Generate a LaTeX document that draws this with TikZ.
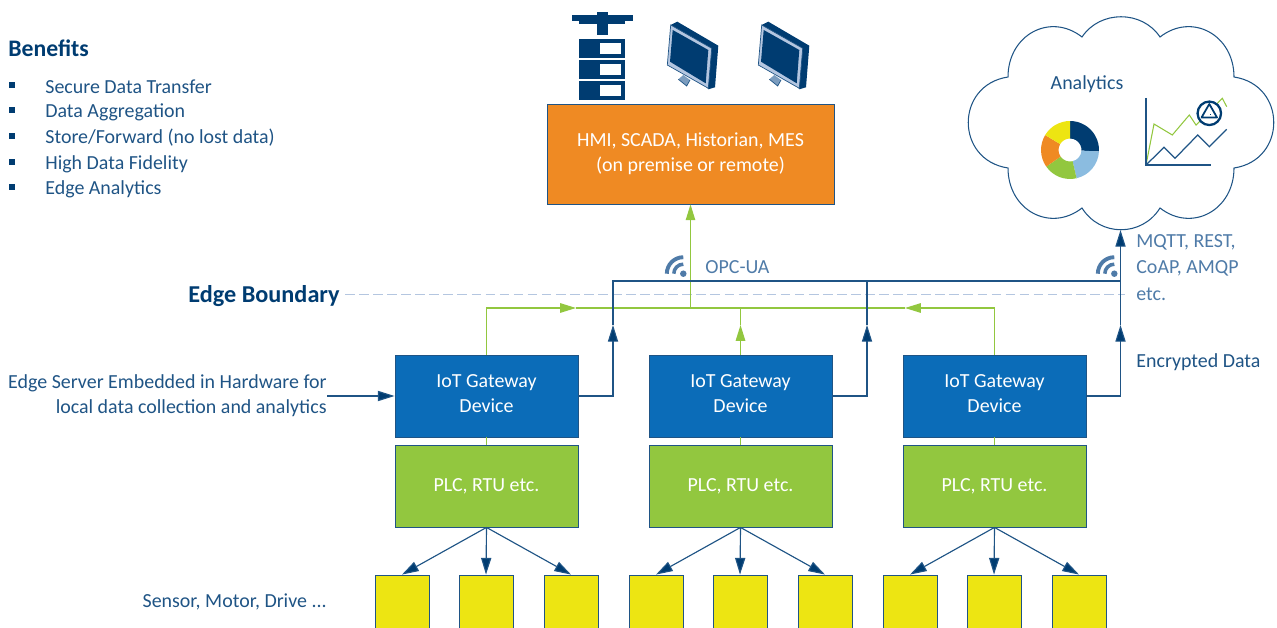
\documentclass[tikz,border=0pt]{standalone}
\usepackage{fontspec}
\setmainfont{Carlito}
\usetikzlibrary{arrows.meta}
\definecolor{darkBlue}{HTML}{003C71}
\definecolor{lineBlue}{HTML}{1F5485}
\definecolor{softBlue}{HTML}{4F7BA8}
\definecolor{dashBlue}{HTML}{B4C6E0}
\definecolor{gatewayBlue}{HTML}{0B6CB8}
\definecolor{plcGreen}{HTML}{92C73F}
\definecolor{hmiOrange}{HTML}{EF8A23}
\definecolor{sensorYellow}{HTML}{EDE512}
\definecolor{skyBlue}{HTML}{8BBCE0}
\newcommand{\liftText}{\rule[-3pt]{0pt}{0pt}}
\tikzset{
	block/.style    = {draw=lineBlue, line width=0.5pt, rectangle, text=white, align=center,
		font=\fontsize{11.35}{14.2}\selectfont},
	gateway/.style  = {block, fill=gatewayBlue, minimum width=3.66cm, minimum height=1.64cm},
	plc/.style      = {block, fill=plcGreen, minimum width=3.66cm, minimum height=1.64cm},
	sensor/.style   = {block, fill=sensorYellow, minimum width=1.08cm, minimum height=1.2cm},
	label/.style    = {text=lineBlue, inner sep=0pt, font=\fontsize{11.35}{14.2}\selectfont},
	softlabel/.style = {label, text=softBlue},
	greenline/.style = {draw=plcGreen, line width=0.7pt},
	blueline/.style = {draw=lineBlue, line width=0.65pt, >={Triangle[length=9.5pt,width=5.8pt,fill=darkBlue]}},
}

\begin{document}
\begin{tikzpicture}[ x=0.02cm, y=-0.02cm,
                       >/.tip={Triangle[length=9pt,width=5.4pt]}
                       ]
    \useasboundingbox (0,0) rectangle (1277,628);

    %-- Text on the left --%
    \draw
      node(benefits) at (8,48.5) [label, anchor=west, font=\fontsize{13.5}{15}\selectfont\bfseries, text=darkBlue] {Benefits}
      node(item1) at (45,87) [label, anchor=west] {Secure Data Transfer}
      node(item2) at (45,112) [label, anchor=west] {Data Aggregation}
      node(item3) at (45,138) [label, anchor=west] {Store/Forward (no lost data)}
      node(item4) at (45,164) [label, anchor=west] {High Data Fidelity}
      node(item5) at (45,189) [label, anchor=west] {Edge Analytics}

      node(edgeBoundary) at (340,296) [label, anchor=east, font=\fontsize{13.8}{15}\selectfont\bfseries, text=darkBlue] {Edge Boundary}
      node(edgeServer) at (327,396) [label, anchor=east, align=right] {Edge Server Embedded in Hardware for\\local data collection and analytics}
      node(sensorText) at (327,602) [label, anchor=east] {Sensor, Motor, Drive ...}
    ;
    \foreach \itemY in {85,110,136,162,187}
      \fill[darkBlue] (9,\itemY-3) rectangle (15,\itemY+3);

    %-- Blocks creation --%
    \draw
      % TOP %
      node(hmi) at (690.5,154) [block, fill=hmiOrange, minimum width=5.74cm, minimum height=2cm] {HMI, SCADA, Historian, MES\\(on premise or remote)}

      % GATEWAYS %
      node(gateway1) at (486.5,396) [gateway] {IoT Gateway\\Device\liftText}
      node(gateway2) at (740.5,396) [gateway] {IoT Gateway\\Device\liftText}
      node(gateway3) at (994.5,396) [gateway] {IoT Gateway\\Device\liftText}

      % CONTROLLERS %
      node(plc1) at (486.5,486) [plc] {\raisebox{-1pt}{PLC, RTU etc.}}
      node(plc2) at (740.5,486) [plc] {\raisebox{-1pt}{PLC, RTU etc.}}
      node(plc3) at (994.5,486) [plc] {\raisebox{-1pt}{PLC, RTU etc.}}

      % SENSORS %
      node(sensor1) at (402,605) [sensor] {}
      node(sensor2) at (486,605) [sensor] {}
      node(sensor3) at (571,605) [sensor] {}
      node(sensor4) at (656,605) [sensor] {}
      node(sensor5) at (740,605) [sensor] {}
      node(sensor6) at (825,605) [sensor] {}
      node(sensor7) at (910,605) [sensor] {}
      node(sensor8) at (994,605) [sensor] {}
      node(sensor9) at (1079,605) [sensor] {}

      node[shape=coordinate][](greenJoin) at (690.5,308){}
      node[shape=coordinate][](greenLeft) at (486.5,308){}
      node[shape=coordinate][](greenLeftTip) at (576,308){}
      node[shape=coordinate][](greenMid) at (740.5,308){}
      node[shape=coordinate][](greenMidTip) at (740.5,325){}
      node[shape=coordinate][](greenRight) at (994.5,308){}
      node[shape=coordinate][](greenRightTip) at (905,308){}

      node[shape=coordinate][](busLeft) at (613,281){}
      node[shape=coordinate][](busMid) at (867,281){}
      node[shape=coordinate][](busRight) at (1120.5,281){}
      node[shape=coordinate][](riseLeft) at (613,396){}
      node[shape=coordinate][](riseMid) at (867,396){}
      node[shape=coordinate][](riseRight) at (1120.5,396){}
      node[shape=coordinate][](riseLeftTip) at (613,325){}
      node[shape=coordinate][](riseMidTip) at (867,325){}
      node[shape=coordinate][](riseRightTip) at (1120.5,325){}
      node[shape=coordinate][](cloudBase) at (1120.5,230){}
      node[shape=coordinate][](serverStart) at (327,396){}
      node[shape=coordinate][](boundaryStart) at (345,294){}
      node[shape=coordinate][](boundaryEnd) at (1125,294){}
    ;

    %-- Block linking --%
    % BOUNDARY %
    \draw[dashBlue, line width=0.45pt, dash pattern=on 5.5pt off 2.5pt] (boundaryStart) -- (boundaryEnd);

    % GREEN %
    \draw[greenline, ->] (gateway1.north) -- (greenLeft) -- (greenLeftTip);
    \draw[greenline] (greenLeftTip) -- (greenJoin);
    \draw[greenline, ->] (gateway3.north) -- (greenRight) -- (greenRightTip);
    \draw[greenline] (greenRightTip) -- (greenJoin);
    \draw[greenline, ->] (gateway2.north) -- (greenMidTip);
    \draw[greenline] (greenMidTip) -- (greenMid) -- (greenJoin);
    \draw[greenline, ->] (greenJoin) -- (hmi.south);
    \draw[greenline] (gateway1.south) -- (plc1.north);
    \draw[greenline] (gateway2.south) -- (plc2.north);
    \draw[greenline] (gateway3.south) -- (plc3.north);

    % BLUE %
    \draw[blueline, ->] (gateway1.east) -- (riseLeft) -- (riseLeftTip);
    \draw[blueline] (riseLeftTip) -- (busLeft) -- (busRight);
    \draw[blueline, ->] (gateway2.east) -- (riseMid) -- (riseMidTip);
    \draw[blueline] (riseMidTip) -- (busMid);
    \draw[blueline, ->] (gateway3.east) -- (riseRight) -- (riseRightTip);
    \draw[blueline] (riseRightTip) -- (busRight);
    \draw[blueline, ->] (busRight) -- (cloudBase);
    \draw[blueline, ->] (serverStart) -- (gateway1.west);

    % CONTROLLER TO SENSOR %
    \draw[blueline, ->] (plc1.south) -- (sensor1.north);
    \draw[blueline, ->] (plc1.south) -- (sensor2.north);
    \draw[blueline, ->] (plc1.south) -- (sensor3.north);
    \draw[blueline, ->] (plc2.south) -- (sensor4.north);
    \draw[blueline, ->] (plc2.south) -- (sensor5.north);
    \draw[blueline, ->] (plc2.south) -- (sensor6.north);
    \draw[blueline, ->] (plc3.south) -- (sensor7.north);
    \draw[blueline, ->] (plc3.south) -- (sensor8.north);
    \draw[blueline, ->] (plc3.south) -- (sensor9.north);

    %-- Protocol labels --%
    \draw
      node(opcUa) at (705,267) [softlabel, anchor=west] {OPC-UA}
      node(mqtt) at (1136,242) [softlabel, anchor=west] {MQTT, REST,}
      node(coap) at (1136,268) [softlabel, anchor=west] {CoAP, AMQP}
      node(etc) at (1136,294) [softlabel, anchor=west] {etc.}
      node(encrypted) at (1136,362.5) [label, anchor=west] {Encrypted Data}
    ;

    %-- Wireless signs --%
    \foreach \wifiX in {683.3,1114.3} {
      \begin{scope}[shift={(\wifiX,273.7)}]
        \fill[softBlue] (0,0) circle (0.065cm);
        \draw[softBlue, line width=2pt] (180:0.19cm) arc[start angle=180, end angle=90, radius=0.19cm];
        \draw[softBlue, line width=2.2pt] (180:0.33cm) arc[start angle=180, end angle=90, radius=0.33cm];
      \end{scope}
    }

    %-- Cloud --%
    \draw[lineBlue, line width=0.6pt]
      (1008,77) .. controls (1008,35) and (1050,12) .. (1082,37)
      .. controls (1100,10) and (1142,10) .. (1160,37)
      .. controls (1192,12) and (1234,35) .. (1234,77)
      .. controls (1287,85) and (1287,160) .. (1234,168)
      .. controls (1234,210) and (1192,233) .. (1160,208)
      .. controls (1142,237) and (1100,237) .. (1082,208)
      .. controls (1050,233) and (1008,210) .. (1008,168)
      .. controls (955,160) and (955,85) .. (1008,77) -- cycle;
    \draw
      node(analytics) at (1087,84) [softlabel, text=lineBlue] {Analytics}
    ;

    % DONUT %
    \begin{scope}[shift={(1070,150)}]
      \foreach \startA/\endA/\sliceColor in {90/-3/darkBlue, -3/-77/skyBlue, -77/-145/plcGreen, -145/-211/hmiOrange, -211/-270/sensorYellow}
        \fill[\sliceColor] (\startA:0.58cm) arc[start angle=\startA, end angle=\endA, radius=0.58cm]
          -- (\endA:0.23cm) arc[start angle=\endA, end angle=\startA, radius=0.23cm] -- cycle;
    \end{scope}

    % CHART %
    \draw[plcGreen, line width=0.6pt] (1146,165) -- (1154,124) -- (1172.3,135) -- (1189.3,115) -- (1196,125) -- (1208,113) -- (1222.3,98.3) -- (1226.7,106.7);
    \draw[lineBlue, line width=0.7pt] (1146,165) -- (1164,147.3) -- (1175,158.3) -- (1197.7,135) -- (1209.3,146.7) -- (1226.7,129.3);
    \draw[lineBlue, line width=0.7pt] (1146,98) -- (1146,165) -- (1211,165);
    \draw[darkBlue, fill=white, line width=1.3pt] (1209.3,113.3) circle (0.235cm);
    \draw[darkBlue, line width=1pt, line join=round] (1209.3,104) -- (1201.5,117.5) -- (1217,117.5) -- cycle;
    \fill[darkBlue] (1209.5,114) rectangle (1211,115.5);

    %-- Server icon --%
    \fill[darkBlue] (572,15) rectangle (633,20.7);
    \fill[darkBlue] (579,20.7) rectangle (625,24);
    \fill[darkBlue] (597,12) rectangle (608,35);
    \foreach \slotY in {39,60,81} {
      \fill[darkBlue] (579,\slotY) rectangle (625,\slotY+19);
      \fill[white] (600,\slotY+4) rectangle (621,\slotY+15);
    }

    %-- Monitor icons --%
    \foreach \monX in {0,91} {
      \begin{scope}[shift={(\monX,0)}]
        \fill[softBlue!75] (678.3,79.3) -- (683.3,75) -- (690,80) -- (686.7,86) -- cycle;
        \draw[lineBlue, line width=0.4pt] (678.3,79.3) -- (686.7,86) -- (690,80);
        \fill[darkBlue] (670.7,25) -- (677.3,21.7) -- (718.3,45.7) -- (715,87.3) -- (708.3,89.3) -- cycle;
        \filldraw[fill=dashBlue, draw=lineBlue, line width=0.4pt] (670.7,25) -- (711.7,48.3) -- (708.3,88.3) -- (667.3,65) -- cycle;
        \fill[darkBlue] (672.7,30) -- (708.3,50) -- (705.7,83.3) -- (670,61.7) -- cycle;
      \end{scope}
    }

\end{tikzpicture}
\end{document}
